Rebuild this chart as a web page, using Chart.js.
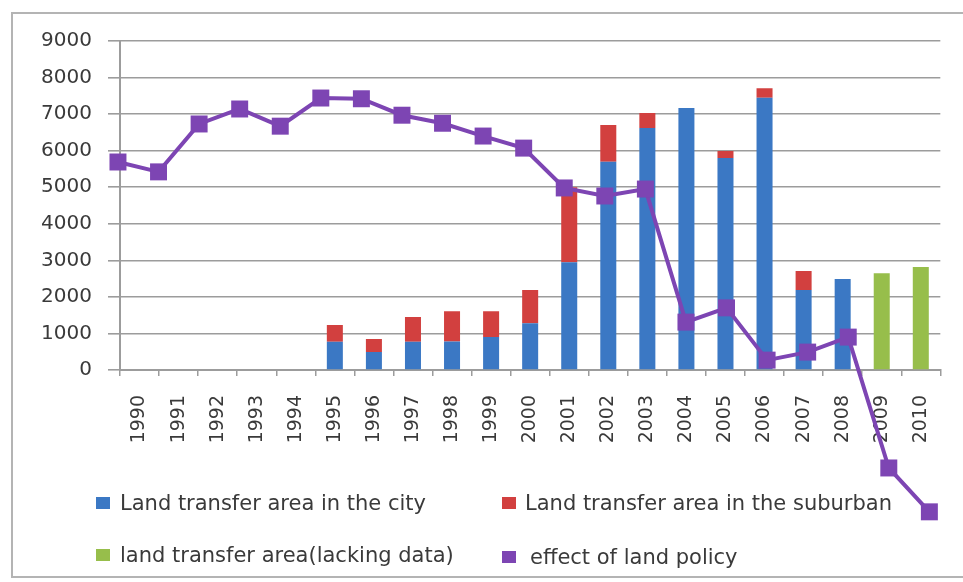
<!DOCTYPE html>
<html>
<head>
<meta charset="utf-8">
<script src="https://cdn.jsdelivr.net/npm/chart.js@4/dist/chart.umd.min.js"></script>
<style>
  html, body { margin: 0; padding: 0; background: #fff; }
  #wrap { position: relative; width: 963px; height: 582px; overflow: hidden; }
  #frame { position: absolute; left: 11px; top: 12px; width: 970px; height: 566px;
           border: 2px solid #b4b4b4; box-sizing: border-box; }
  #chart { position: absolute; left: 0; top: 0; }
  .lg { position: absolute; font-family: "DejaVu Sans", sans-serif; font-size: 21px;
        color: #3a3a3a; white-space: nowrap; line-height: 24px; }
  .lg i { position: absolute; width: 14px; height: 12px; top: 6px; }
</style>
</head>
<body>
<div id="wrap">
  <div id="frame"></div>
  <canvas id="chart" width="963" height="582"></canvas>
  <div id="legend"></div>
</div>
<script>
// Years on the category axis
const years = ['1990','1991','1992','1993','1994','1995','1996','1997','1998','1999',
               '2000','2001','2002','2003','2004','2005','2006','2007','2008','2009','2010'];

// Land transfer area in the city
const cityArea = [null, null, null, null, null, 770, 490, 770, 780, 900,
                  1280, 2950, 5700, 6620, 7170, 5800, 7450, 2190, 2490, null, null];

// Land transfer area in the suburban
const suburbanArea = [null, null, null, null, null, 460, 360, 680, 830, 710,
                      910, 2050, 1000, 410, 0, 190, 260, 520, 0, null, null];

// Years where only the total is known
const lackingData = [null, null, null, null, null, null, null, null, null, null,
                     null, null, null, null, null, null, null, null, null, 2650, 2820];

// Effect of land policy (line)
const policyEffect = [5690, 5420, 6730, 7140, 6670, 7440, 7420, 6970, 6750, 6400,
                      6070, 4980, 4760, 4950, 1310, 1700, 270, 490, 900, -2680, -3880];

const yTicks = [0, 1000, 2000, 3000, 4000, 5000, 6000, 7000, 8000, 9000];

const BLUE = '#3b78c4', RED = '#d2403f', GREEN = '#97be4b', PURPLE = '#7d45b3';
const GRID = '#9c9c9c';

// Let the policy line and its markers run past the plot frame
const unclippedLine = {
  id: 'unclippedLine',
  beforeDatasetDraw(chart, args) {
    if (chart.data.datasets[args.index].type !== 'line') return;
    chart._savedArea = chart.chartArea;
    chart.chartArea = { left: 0, top: 0, right: chart.width, bottom: chart.height,
                        width: chart.width, height: chart.height };
  },
  afterDatasetDraw(chart) {
    if (chart._savedArea) { chart.chartArea = chart._savedArea; chart._savedArea = null; }
  }
};

const chart = new Chart(document.getElementById('chart'), {
  type: 'bar',
  data: {
    labels: years,
    datasets: [
      {
        type: 'line', label: 'effect of land policy',
        data: policyEffect.map((v, i) => ({ x: Number(years[i]), y: v })),
        xAxisID: 'x2', stack: 'policy', order: 0,
        borderColor: PURPLE, backgroundColor: PURPLE, borderWidth: 4, tension: 0,
        pointStyle: 'rect', pointRadius: 12, pointBorderWidth: 0,
        pointBackgroundColor: PURPLE, clip: false
      },
      { type: 'bar', label: 'Land transfer area in the city', data: cityArea,
        backgroundColor: BLUE, stack: 'area', order: 1 },
      { type: 'bar', label: 'Land transfer area in the suburban', data: suburbanArea,
        backgroundColor: RED, stack: 'area', order: 1 },
      { type: 'bar', label: 'land transfer area(lacking data)', data: lackingData,
        backgroundColor: GREEN, stack: 'area', order: 1 }
    ]
  },
  options: {
    responsive: false,
    animation: false,
    layout: { padding: { left: 0, right: 17, top: 41, bottom: 0 } },
    datasets: { bar: { grouped: false, categoryPercentage: 1, barPercentage: 0.41, borderWidth: 0 } },
    plugins: { legend: { display: false }, tooltip: { enabled: false } },
    scales: {
      x: {
        type: 'category', stacked: true, position: 'bottom', offset: true,
        afterFit: s => { s.height = 212; },
        grid: { offset: true, drawOnChartArea: false, drawTicks: true, tickLength: 6, color: GRID, lineWidth: 1.5 },
        border: { display: true, color: GRID, width: 2 },
        ticks: { autoSkip: false, minRotation: 90, maxRotation: 90, padding: 19,
                 color: '#3a3a3a', font: { family: 'DejaVu Sans', size: 19 } }
      },
      x2: {
        type: 'linear', display: false, position: 'bottom', offset: false,
        grid: { offset: false },
        min: 1990.05, max: 2010.27
      },
      y: {
        stacked: true, min: 0, max: 9000,
        afterFit: s => { s.width = 120; },
        afterBuildTicks: s => { s.ticks = yTicks.map(v => ({ value: v })); },
        grid: { color: GRID, lineWidth: 1.6, tickLength: 12 },
        border: { display: true, color: GRID, width: 2 },
        ticks: { padding: 16, color: '#3a3a3a', font: { family: 'DejaVu Sans', size: 20 },
                 callback: v => String(v) }
      }
    }
  },
  plugins: [unclippedLine]
});

// Two-column legend under the plot
const legendPos = {
  'Land transfer area in the city':     { sx: 96,  tx: 120, y: 491 },
  'Land transfer area in the suburban': { sx: 502, tx: 525, y: 491 },
  'land transfer area(lacking data)':   { sx: 96,  tx: 120, y: 543 },
  'effect of land policy':              { sx: 502, tx: 530, y: 545 }
};
const legendEl = document.getElementById('legend');
chart.data.datasets.slice(1).concat(chart.data.datasets.slice(0, 1)).forEach(ds => {
  const p = legendPos[ds.label];
  const item = document.createElement('div');
  item.className = 'lg';
  item.style.left = p.tx + 'px';
  item.style.top = p.y + 'px';
  const sw = document.createElement('i');
  sw.style.background = ds.backgroundColor;
  sw.style.left = (p.sx - p.tx) + 'px';
  item.appendChild(sw);
  item.appendChild(document.createTextNode(ds.label));
  legendEl.appendChild(item);
});
</script>
</body>
</html>
